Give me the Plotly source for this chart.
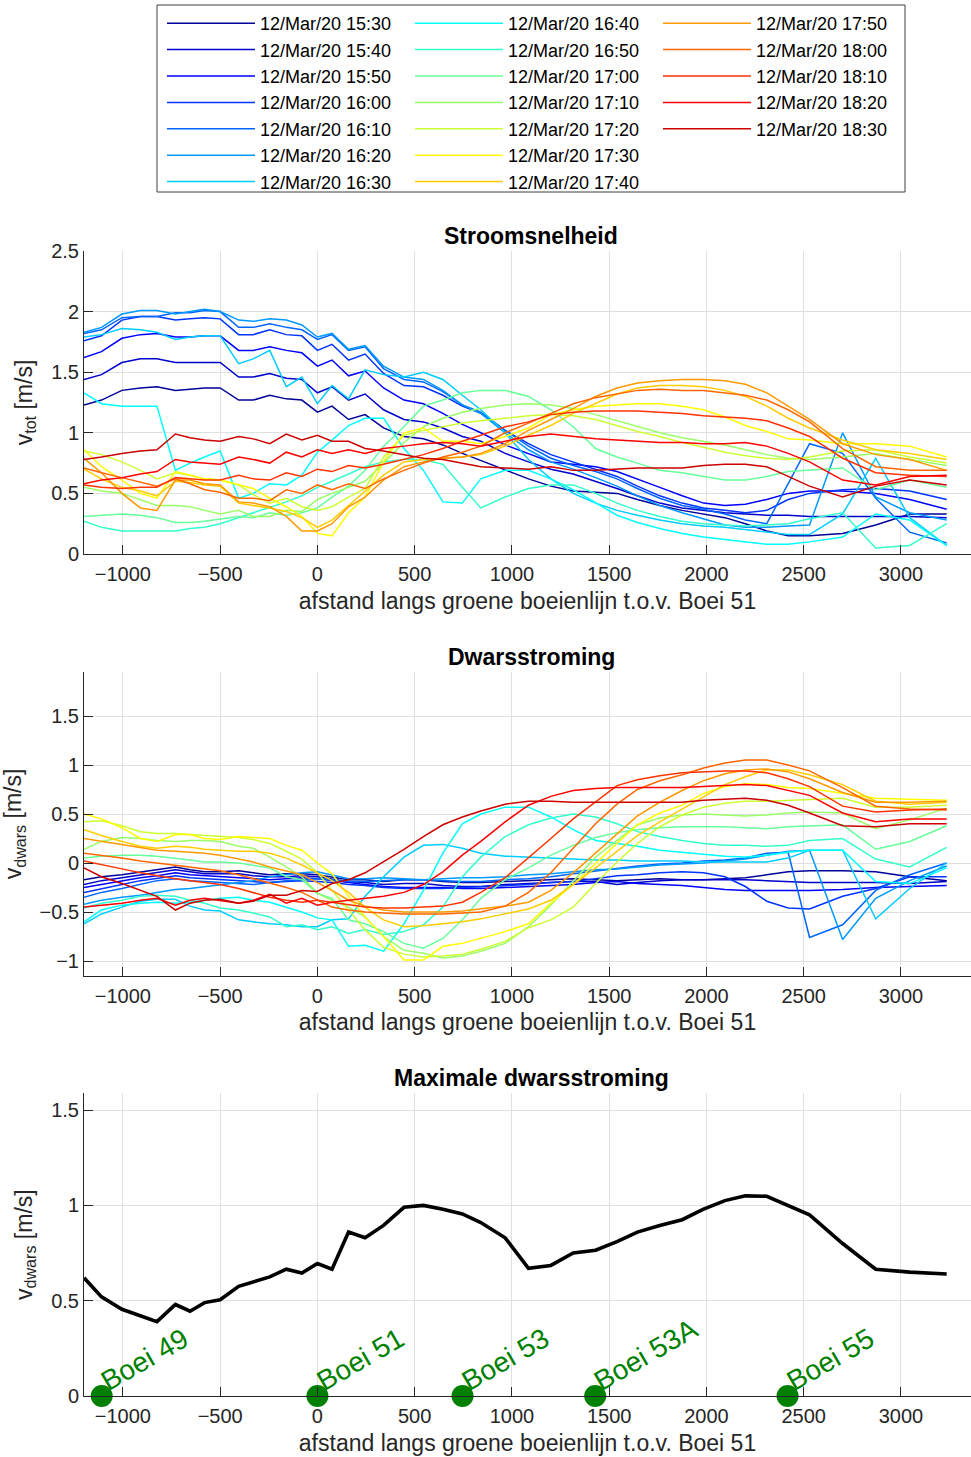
import plotly.graph_objects as go

# ---------------------------------------------------------------------------
# Distance along the green buoy line, relative to Boei 51 [m]
afstand = [-1200, -1110, -1005, -910, -825, -730, -655, -580, -500, -405, -330, -245,
           -160, -80, 0, 75, 160, 245, 340, 445, 545, 645, 745, 840, 965, 1085,
           1200, 1315, 1430, 1540, 1645, 1760, 1875, 1985, 2095, 2200, 2310, 2420,
           2530, 2700, 2870, 3045, 3235]

tijden = ["12/Mar/20 15:30", "12/Mar/20 15:40", "12/Mar/20 15:50", "12/Mar/20 16:00",
          "12/Mar/20 16:10", "12/Mar/20 16:20", "12/Mar/20 16:30", "12/Mar/20 16:40",
          "12/Mar/20 16:50", "12/Mar/20 17:00", "12/Mar/20 17:10", "12/Mar/20 17:20",
          "12/Mar/20 17:30", "12/Mar/20 17:40", "12/Mar/20 17:50", "12/Mar/20 18:00",
          "12/Mar/20 18:10", "12/Mar/20 18:20", "12/Mar/20 18:30"]

# jet colormap, 19 entries
kleuren = ["rgb(0,0,153)", "rgb(0,0,204)", "rgb(0,0,255)", "rgb(0,51,255)", "rgb(0,102,255)",
           "rgb(0,153,255)", "rgb(0,204,255)", "rgb(0,255,255)", "rgb(51,255,204)",
           "rgb(102,255,153)", "rgb(153,255,102)", "rgb(204,255,51)", "rgb(255,255,0)",
           "rgb(255,204,0)", "rgb(255,153,0)", "rgb(255,102,0)", "rgb(255,51,0)",
           "rgb(255,0,0)", "rgb(204,0,0)"]

# --- total current speed v_tot [m/s] ---------------------------------------
vtot_1530 = [1.23, 1.27, 1.35, 1.37, 1.38, 1.35, 1.36, 1.37, 1.37, 1.27, 1.27, 1.31, 1.28, 1.27, 1.17, 1.22, 1.11, 1.15, 1.04, 0.97, 0.95, 0.90, 0.83, 0.77, 0.69, 0.62,
             0.56, 0.52, 0.51, 0.50, 0.45, 0.40, 0.36, 0.33, 0.30, 0.25, 0.19, 0.15, 0.15, 0.17, 0.24, 0.33, 0.33]
vtot_1540 = [1.44, 1.48, 1.58, 1.61, 1.61, 1.58, 1.58, 1.58, 1.58, 1.46, 1.46, 1.49, 1.45, 1.44, 1.33, 1.38, 1.27, 1.32, 1.19, 1.11, 1.09, 1.04, 0.97, 0.93, 0.83, 0.76,
             0.70, 0.66, 0.60, 0.54, 0.48, 0.42, 0.38, 0.36, 0.34, 0.33, 0.32, 0.32, 0.31, 0.31, 0.31, 0.31, 0.30]
vtot_1550 = [1.62, 1.67, 1.78, 1.81, 1.82, 1.79, 1.79, 1.80, 1.80, 1.68, 1.68, 1.71, 1.68, 1.66, 1.55, 1.60, 1.47, 1.51, 1.37, 1.27, 1.24, 1.16, 1.07, 1.00, 0.90, 0.83,
             0.76, 0.74, 0.72, 0.68, 0.62, 0.55, 0.48, 0.42, 0.40, 0.41, 0.45, 0.50, 0.52, 0.52, 0.50, 0.45, 0.37]
vtot_1600 = [1.76, 1.80, 1.93, 1.96, 1.96, 1.93, 1.94, 1.95, 1.94, 1.81, 1.81, 1.85, 1.81, 1.80, 1.68, 1.73, 1.60, 1.65, 1.49, 1.39, 1.38, 1.31, 1.22, 1.16, 1.02, 0.91,
             0.82, 0.76, 0.70, 0.64, 0.56, 0.48, 0.42, 0.38, 0.36, 0.34, 0.36, 0.45, 0.50, 0.53, 0.54, 0.52, 0.45]
vtot_1610 = [1.82, 1.85, 1.95, 1.96, 1.96, 1.99, 1.99, 2.01, 2.00, 1.87, 1.87, 1.90, 1.87, 1.85, 1.77, 1.81, 1.68, 1.71, 1.53, 1.44, 1.42, 1.34, 1.23, 1.17, 1.02, 0.89,
             0.79, 0.73, 0.68, 0.62, 0.54, 0.46, 0.40, 0.37, 0.33, 0.28, 0.25, 0.58, 0.91, 0.83, 0.46, 0.18, 0.09]
vtot_1620 = [1.83, 1.87, 1.98, 2.01, 2.01, 1.98, 2.00, 2.02, 2.00, 1.93, 1.92, 1.94, 1.93, 1.89, 1.79, 1.82, 1.69, 1.72, 1.55, 1.46, 1.44, 1.35, 1.23, 1.16, 1.00, 0.86,
             0.76, 0.70, 0.63, 0.56, 0.48, 0.40, 0.34, 0.29, 0.24, 0.22, 0.22, 0.23, 0.24, 1.00, 0.47, 0.34, 0.28]
vtot_1630 = [1.79, 1.81, 1.86, 1.85, 1.83, 1.77, 1.79, 1.80, 1.80, 1.57, 1.61, 1.68, 1.38, 1.46, 1.24, 1.39, 1.28, 1.52, 1.48, 1.46, 1.50, 1.44, 1.31, 1.19, 1.00, 0.78,
             0.62, 0.50, 0.42, 0.36, 0.32, 0.28, 0.25, 0.23, 0.22, 0.20, 0.18, 0.16, 0.16, 0.33, 0.79, 0.30, 0.07]
vtot_1640 = [1.33, 1.24, 1.22, 1.22, 1.22, 0.69, 0.75, 0.80, 0.85, 0.46, 0.50, 0.58, 0.57, 0.65, 0.84, 0.94, 1.06, 1.12, 1.12, 0.87, 0.69, 0.43, 0.42, 0.62, 0.69, 0.69,
             0.62, 0.53, 0.42, 0.32, 0.26, 0.21, 0.17, 0.14, 0.12, 0.10, 0.08, 0.08, 0.10, 0.14, 0.33, 0.28, 0.07]
vtot_1650 = [0.27, 0.22, 0.19, 0.19, 0.19, 0.19, 0.21, 0.22, 0.25, 0.30, 0.34, 0.38, 0.43, 0.48, 0.55, 0.60, 0.66, 0.72, 0.76, 0.78, 0.78, 0.74, 0.55, 0.38, 0.47, 0.54,
             0.57, 0.57, 0.50, 0.42, 0.36, 0.31, 0.27, 0.25, 0.24, 0.23, 0.24, 0.25, 0.29, 0.34, 0.05, 0.07, 0.25]
vtot_1700 = [0.31, 0.32, 0.33, 0.32, 0.30, 0.26, 0.26, 0.27, 0.29, 0.31, 0.30, 0.34, 0.32, 0.34, 0.38, 0.47, 0.56, 0.69, 0.89, 1.05, 1.22, 1.27, 1.33, 1.35, 1.35, 1.30,
             1.19, 1.05, 0.87, 0.80, 0.75, 0.69, 0.67, 0.64, 0.61, 0.61, 0.64, 0.68, 0.69, 0.71, 0.53, 0.61, 0.55]
vtot_1710 = [0.55, 0.52, 0.50, 0.45, 0.40, 0.40, 0.39, 0.36, 0.33, 0.36, 0.31, 0.31, 0.36, 0.35, 0.45, 0.50, 0.55, 0.60, 0.75, 0.92, 1.05, 1.12, 1.17, 1.20, 1.23, 1.24,
             1.23, 1.20, 1.15, 1.10, 1.05, 1.00, 0.96, 0.93, 0.90, 0.86, 0.82, 0.79, 0.78, 0.80, 0.83, 0.78, 0.73]
vtot_1720 = [0.85, 0.82, 0.76, 0.69, 0.62, 0.67, 0.65, 0.62, 0.61, 0.57, 0.49, 0.42, 0.46, 0.39, 0.36, 0.39, 0.47, 0.54, 0.80, 0.98, 1.02, 1.05, 1.08, 1.10, 1.12, 1.14,
             1.15, 1.14, 1.11, 1.06, 1.01, 0.97, 0.92, 0.88, 0.84, 0.81, 0.79, 0.78, 0.80, 0.85, 0.86, 0.80, 0.75]
vtot_1730 = [0.86, 0.72, 0.61, 0.50, 0.46, 0.68, 0.65, 0.62, 0.61, 0.57, 0.54, 0.46, 0.39, 0.31, 0.17, 0.15, 0.34, 0.47, 0.76, 1.00, 1.04, 0.93, 0.93, 0.91, 0.97, 1.04,
             1.15, 1.19, 1.22, 1.23, 1.24, 1.24, 1.22, 1.19, 1.13, 1.06, 1.01, 0.95, 0.94, 0.91, 0.91, 0.89, 0.80]
vtot_1740 = [0.70, 0.62, 0.55, 0.52, 0.48, 0.60, 0.59, 0.57, 0.56, 0.42, 0.40, 0.38, 0.35, 0.30, 0.22, 0.28, 0.40, 0.52, 0.65, 0.76, 0.78, 0.79, 0.80, 0.82, 0.89, 0.98,
             1.06, 1.16, 1.24, 1.32, 1.37, 1.39, 1.39, 1.38, 1.35, 1.30, 1.22, 1.12, 1.04, 0.94, 0.86, 0.83, 0.78]
vtot_1750 = [0.79, 0.67, 0.50, 0.38, 0.36, 0.61, 0.61, 0.58, 0.57, 0.43, 0.42, 0.39, 0.31, 0.19, 0.19, 0.25, 0.39, 0.47, 0.61, 0.72, 0.76, 0.79, 0.80, 0.83, 0.91, 1.02,
             1.11, 1.20, 1.30, 1.37, 1.41, 1.43, 1.44, 1.44, 1.43, 1.40, 1.33, 1.22, 1.11, 0.91, 0.82, 0.78, 0.69]
vtot_1800 = [0.71, 0.67, 0.63, 0.59, 0.56, 0.62, 0.58, 0.53, 0.51, 0.46, 0.46, 0.44, 0.53, 0.50, 0.57, 0.53, 0.58, 0.54, 0.62, 0.69, 0.75, 0.80, 0.84, 0.89, 1.00, 1.08,
             1.16, 1.24, 1.29, 1.32, 1.35, 1.36, 1.35, 1.35, 1.33, 1.31, 1.27, 1.19, 1.09, 0.87, 0.72, 0.69, 0.69]
vtot_1810 = [0.57, 0.55, 0.54, 0.55, 0.55, 0.63, 0.62, 0.61, 0.61, 0.65, 0.62, 0.61, 0.67, 0.64, 0.70, 0.68, 0.73, 0.71, 0.74, 0.78, 0.82, 0.87, 0.93, 0.98, 1.05, 1.09,
             1.15, 1.17, 1.18, 1.18, 1.18, 1.17, 1.16, 1.14, 1.13, 1.12, 1.10, 1.04, 0.97, 0.79, 0.67, 0.65, 0.64]
vtot_1820 = [0.58, 0.61, 0.63, 0.66, 0.68, 0.78, 0.76, 0.75, 0.74, 0.80, 0.78, 0.75, 0.84, 0.80, 0.86, 0.83, 0.86, 0.83, 0.87, 0.89, 0.91, 0.92, 0.91, 0.89, 0.93, 0.97,
             0.99, 0.97, 0.95, 0.94, 0.93, 0.92, 0.92, 0.91, 0.91, 0.92, 0.89, 0.83, 0.76, 0.61, 0.57, 0.64, 0.65]
vtot_1830 = [0.78, 0.80, 0.83, 0.85, 0.86, 0.99, 0.96, 0.94, 0.93, 0.97, 0.95, 0.91, 0.99, 0.94, 0.98, 0.93, 0.93, 0.87, 0.85, 0.82, 0.79, 0.78, 0.75, 0.72, 0.71, 0.70,
             0.72, 0.69, 0.69, 0.70, 0.71, 0.71, 0.71, 0.73, 0.74, 0.74, 0.72, 0.64, 0.56, 0.47, 0.56, 0.61, 0.57]

# --- cross current v_dwars [m/s] -------------------------------------------
dwars_1530 = [-0.17, -0.14, -0.12, -0.09, -0.07, -0.04, -0.07, -0.09, -0.09, -0.08, -0.10, -0.12, -0.11, -0.11, -0.12, -0.14, -0.17, -0.17, -0.19, -0.17, -0.17, -0.19, -0.20, -0.20, -0.19, -0.18,
              -0.17, -0.16, -0.17, -0.18, -0.17, -0.16, -0.17, -0.17, -0.16, -0.15, -0.12, -0.09, -0.08, -0.08, -0.09, -0.14, -0.18]
dwars_1540 = [-0.22, -0.18, -0.15, -0.12, -0.10, -0.07, -0.09, -0.11, -0.11, -0.11, -0.13, -0.14, -0.14, -0.13, -0.14, -0.16, -0.19, -0.20, -0.22, -0.21, -0.21, -0.23, -0.24, -0.24, -0.22, -0.21,
              -0.20, -0.19, -0.19, -0.22, -0.20, -0.18, -0.17, -0.17, -0.17, -0.17, -0.18, -0.19, -0.20, -0.20, -0.20, -0.21, -0.19]
dwars_1550 = [-0.25, -0.22, -0.18, -0.15, -0.13, -0.10, -0.12, -0.13, -0.14, -0.15, -0.16, -0.17, -0.16, -0.15, -0.16, -0.18, -0.20, -0.22, -0.24, -0.25, -0.25, -0.25, -0.26, -0.26, -0.25, -0.24,
              -0.23, -0.22, -0.20, -0.19, -0.21, -0.22, -0.23, -0.25, -0.27, -0.28, -0.28, -0.28, -0.28, -0.27, -0.25, -0.24, -0.23]
dwars_1600 = [-0.30, -0.26, -0.22, -0.18, -0.16, -0.13, -0.15, -0.16, -0.17, -0.18, -0.19, -0.20, -0.19, -0.18, -0.19, -0.20, -0.22, -0.23, -0.25, -0.26, -0.26, -0.26, -0.25, -0.24, -0.23, -0.22,
              -0.20, -0.19, -0.16, -0.13, -0.12, -0.10, -0.09, -0.10, -0.14, -0.24, -0.39, -0.46, -0.47, -0.34, -0.26, -0.14, -0.14]
dwars_1610 = [-0.35, -0.30, -0.26, -0.22, -0.18, -0.16, -0.18, -0.19, -0.20, -0.21, -0.22, -0.20, -0.18, -0.17, -0.16, -0.17, -0.19, -0.19, -0.18, -0.17, -0.17, -0.18, -0.19, -0.19, -0.17, -0.16,
              -0.14, -0.11, -0.08, -0.05, -0.03, -0.01, 0.00, 0.02, 0.03, 0.05, 0.10, 0.11, -0.76, -0.63, -0.28, -0.12, 0.00]
dwars_1620 = [-0.42, -0.38, -0.35, -0.33, -0.30, -0.27, -0.26, -0.24, -0.22, -0.20, -0.18, -0.14, -0.12, -0.10, -0.09, -0.12, -0.16, -0.16, -0.15, -0.16, -0.17, -0.16, -0.15, -0.15, -0.14, -0.12,
              -0.11, -0.09, -0.07, -0.06, -0.04, -0.02, -0.01, 0.00, 0.02, 0.04, 0.08, 0.12, 0.13, -0.78, -0.36, -0.18, -0.03]
dwars_1630 = [-0.62, -0.52, -0.45, -0.39, -0.37, -0.37, -0.44, -0.48, -0.49, -0.58, -0.60, -0.62, -0.63, -0.65, -0.65, -0.58, -0.57, -0.34, -0.14, 0.06, 0.18, 0.19, 0.15, 0.10, 0.07, 0.06,
              0.05, 0.04, 0.03, 0.03, 0.02, 0.02, 0.02, 0.01, 0.01, 0.01, 0.01, 0.05, 0.13, 0.13, -0.57, -0.26, 0.00]
dwars_1640 = [-0.60, -0.48, -0.43, -0.41, -0.40, -0.41, -0.40, -0.38, -0.36, -0.35, -0.38, -0.40, -0.45, -0.50, -0.56, -0.58, -0.85, -0.84, -0.90, -0.62, -0.28, 0.10, 0.40, 0.50, 0.57, 0.57,
              0.47, 0.34, 0.23, 0.20, 0.17, 0.13, 0.11, 0.09, 0.07, 0.06, 0.08, 0.11, 0.13, 0.13, -0.19, -0.21, -0.05]
dwars_1650 = [-0.46, -0.41, -0.38, -0.34, -0.33, -0.34, -0.38, -0.41, -0.46, -0.48, -0.51, -0.55, -0.65, -0.63, -0.68, -0.65, -0.72, -0.68, -0.73, -0.70, -0.63, -0.45, -0.14, 0.06, 0.27, 0.39,
              0.46, 0.50, 0.47, 0.40, 0.32, 0.27, 0.23, 0.20, 0.18, 0.18, 0.17, 0.18, 0.23, 0.25, 0.04, -0.04, 0.16]
dwars_1700 = [0.05, 0.07, 0.08, 0.08, 0.07, 0.05, 0.03, 0.01, 0.01, 0.00, -0.02, -0.05, -0.14, -0.17, -0.31, -0.36, -0.58, -0.62, -0.70, -0.82, -0.87, -0.77, -0.58, -0.36, -0.17, -0.05,
              0.08, 0.18, 0.26, 0.31, 0.34, 0.36, 0.37, 0.37, 0.37, 0.36, 0.35, 0.37, 0.38, 0.39, 0.14, 0.22, 0.38]
dwars_1710 = [0.14, 0.22, 0.26, 0.25, 0.23, 0.22, 0.23, 0.23, 0.22, 0.17, 0.15, 0.06, -0.04, -0.14, -0.31, -0.38, -0.45, -0.55, -0.75, -0.89, -0.92, -0.97, -0.95, -0.90, -0.82, -0.65,
              -0.43, -0.19, 0.06, 0.23, 0.39, 0.46, 0.49, 0.50, 0.49, 0.48, 0.49, 0.51, 0.52, 0.51, 0.35, 0.44, 0.56]
dwars_1720 = [0.42, 0.43, 0.38, 0.32, 0.30, 0.30, 0.29, 0.28, 0.27, 0.26, 0.24, 0.20, 0.12, 0.04, -0.10, -0.28, -0.48, -0.68, -0.86, -0.93, -0.96, -0.95, -0.93, -0.88, -0.80, -0.66,
              -0.58, -0.45, -0.21, 0.01, 0.20, 0.37, 0.49, 0.57, 0.61, 0.63, 0.63, 0.64, 0.65, 0.66, 0.57, 0.57, 0.59]
dwars_1730 = [0.50, 0.45, 0.36, 0.25, 0.22, 0.29, 0.29, 0.25, 0.24, 0.27, 0.26, 0.25, 0.18, 0.13, 0.00, -0.11, -0.34, -0.55, -0.75, -0.99, -0.99, -0.85, -0.82, -0.77, -0.70, -0.62,
              -0.41, -0.22, 0.00, 0.20, 0.39, 0.51, 0.59, 0.71, 0.78, 0.81, 0.80, 0.77, 0.76, 0.71, 0.66, 0.65, 0.64]
dwars_1740 = [0.34, 0.28, 0.22, 0.17, 0.15, 0.17, 0.16, 0.14, 0.13, 0.12, 0.12, 0.10, 0.05, -0.02, -0.10, -0.18, -0.30, -0.45, -0.58, -0.65, -0.64, -0.62, -0.60, -0.57, -0.52, -0.47,
              -0.38, -0.22, -0.05, 0.12, 0.28, 0.42, 0.55, 0.68, 0.80, 0.88, 0.95, 0.95, 0.90, 0.80, 0.63, 0.60, 0.62]
dwars_1750 = [0.25, 0.22, 0.19, 0.16, 0.13, 0.12, 0.11, 0.10, 0.08, 0.04, 0.01, -0.04, -0.08, -0.12, -0.20, -0.28, -0.38, -0.44, -0.48, -0.50, -0.50, -0.50, -0.49, -0.47, -0.44, -0.40,
              -0.28, -0.10, 0.10, 0.30, 0.48, 0.62, 0.74, 0.84, 0.91, 0.95, 0.96, 0.93, 0.86, 0.72, 0.62, 0.62, 0.63]
dwars_1800 = [0.10, 0.08, 0.05, 0.02, 0.00, -0.02, -0.04, -0.06, -0.08, -0.12, -0.16, -0.20, -0.25, -0.30, -0.38, -0.45, -0.48, -0.50, -0.51, -0.52, -0.52, -0.52, -0.51, -0.50, -0.44, -0.30,
              -0.10, 0.15, 0.40, 0.60, 0.75, 0.84, 0.90, 0.97, 1.02, 1.05, 1.05, 1.00, 0.94, 0.77, 0.58, 0.55, 0.54]
dwars_1810 = [0.02, -0.02, -0.06, -0.10, -0.13, -0.16, -0.18, -0.20, -0.22, -0.26, -0.30, -0.35, -0.38, -0.40, -0.38, -0.40, -0.43, -0.45, -0.46, -0.46, -0.45, -0.44, -0.40, -0.30, -0.15, 0.05,
              0.25, 0.45, 0.62, 0.79, 0.85, 0.89, 0.92, 0.93, 0.94, 0.94, 0.92, 0.86, 0.78, 0.58, 0.52, 0.54, 0.55]
dwars_1820 = [-0.45, -0.43, -0.41, -0.38, -0.36, -0.43, -0.38, -0.36, -0.38, -0.41, -0.38, -0.32, -0.41, -0.36, -0.43, -0.40, -0.38, -0.36, -0.34, -0.30, -0.22, -0.09, 0.08, 0.22, 0.42, 0.59,
              0.68, 0.74, 0.76, 0.77, 0.77, 0.77, 0.77, 0.78, 0.79, 0.80, 0.79, 0.74, 0.69, 0.51, 0.42, 0.45, 0.45]
dwars_1830 = [-0.05, -0.14, -0.21, -0.28, -0.34, -0.48, -0.41, -0.38, -0.37, -0.41, -0.39, -0.33, -0.33, -0.28, -0.29, -0.21, -0.17, -0.10, 0.01, 0.14, 0.27, 0.39, 0.47, 0.53, 0.60, 0.63,
              0.63, 0.62, 0.62, 0.62, 0.62, 0.62, 0.62, 0.64, 0.65, 0.66, 0.64, 0.59, 0.51, 0.38, 0.37, 0.40, 0.40]

# --- maximum cross current over all times [m/s] -----------------------------
max_dwars = [0.62, 0.52, 0.455, 0.42, 0.39, 0.48, 0.445, 0.49, 0.505, 0.575, 0.60, 0.625,
             0.665, 0.645, 0.695, 0.665, 0.86, 0.83, 0.895, 0.99, 1.0, 0.98, 0.955, 0.91,
             0.83, 0.67, 0.685, 0.75, 0.765, 0.81, 0.86, 0.895, 0.925, 0.98, 1.025, 1.05,
             1.048, 1.0, 0.95, 0.80, 0.665, 0.65, 0.64]

# --- buoys along the line ----------------------------------------------------
boei_namen = ["Boei 49", "Boei 51", "Boei 53", "Boei 53A", "Boei 55"]
boei_afstand = [-1109, 0, 746, 1428, 2417]

x_ticks = [-1000, -500, 0, 500, 1000, 1500, 2000, 2500, 3000]

vtot_series = [vtot_1530, vtot_1540, vtot_1550, vtot_1600, vtot_1610, vtot_1620, vtot_1630,
               vtot_1640, vtot_1650, vtot_1700, vtot_1710, vtot_1720, vtot_1730, vtot_1740,
               vtot_1750, vtot_1800, vtot_1810, vtot_1820, vtot_1830]
dwars_series = [dwars_1530, dwars_1540, dwars_1550, dwars_1600, dwars_1610, dwars_1620,
                dwars_1630, dwars_1640, dwars_1650, dwars_1700, dwars_1710, dwars_1720,
                dwars_1730, dwars_1740, dwars_1750, dwars_1800, dwars_1810, dwars_1820,
                dwars_1830]

# ---------------------------------------------------------------------------
FONT = "Liberation Sans, Arial, Helvetica, sans-serif"
AX = "#262626"
GRID = "#e0e0e0"
W, H = 971, 1457
ML = 84
PW = W - ML


def py(px):
    """figure pixel row -> paper y"""
    return 1 - px / H


def pxx(px):
    """figure pixel column -> paper x"""
    return (px - ML) / PW


fig = go.Figure()

# legend: three columns of seven entries, each column its own legend
legend_ids = ["legend", "legend2", "legend3"]
for i, (naam, kleur, v) in enumerate(zip(tijden, kleuren, vtot_series)):
    fig.add_trace(go.Scatter(x=afstand, y=v, mode="lines", name=naam,
                             line=dict(color=kleur, width=1.5),
                             legend=legend_ids[i // 7], xaxis="x", yaxis="y"))

for naam, kleur, v in zip(tijden, kleuren, dwars_series):
    fig.add_trace(go.Scatter(x=afstand, y=v, mode="lines", name=naam,
                             line=dict(color=kleur, width=1.5), showlegend=False,
                             xaxis="x2", yaxis="y2"))

fig.add_trace(go.Scatter(x=afstand, y=max_dwars, mode="lines", showlegend=False,
                         line=dict(color="black", width=3.6), xaxis="x3", yaxis="y3"))
fig.add_trace(go.Scatter(x=boei_afstand, y=[0] * len(boei_afstand), mode="markers",
                         showlegend=False, cliponaxis=False,
                         marker=dict(color="#008000", size=22, line=dict(width=0)),
                         xaxis="x3", yaxis="y3"))

# panel geometry in figure pixels (top, bottom)
panels = [(251, 554), (672.3, 975.7), (1093.3, 1396)]
y_ranges = [[0, 2.5], [-1.15, 1.946], [0, 1.588]]
y_ticks = [[0, 0.5, 1, 1.5, 2, 2.5], [-1, -0.5, 0, 0.5, 1, 1.5], [0, 0.5, 1, 1.5]]
titles = ["Stroomsnelheid", "Dwarsstroming", "Maximale dwarsstroming"]
ylabels = ["v<sub>tot</sub> [m/s]", "v<sub>dwars</sub> [m/s]", "v<sub>dwars</sub> [m/s]"]
xlabel = "afstand langs groene boeienlijn t.o.v. Boei 51"

axis_common = dict(showline=True, linecolor=AX, linewidth=1, mirror=False,
                   ticks="inside", ticklen=9, tickwidth=1, tickcolor=AX,
                   showgrid=True, gridcolor=GRID, gridwidth=1, zeroline=False,
                   tickfont=dict(family=FONT, size=20, color=AX), automargin=False)
title_font = dict(family=FONT, size=23, color=AX)

layout_axes = {}
for k, ((top, bot), yr, yt, yl) in enumerate(zip(panels, y_ranges, y_ticks, ylabels), start=1):
    xs = "" if k == 1 else str(k)
    layout_axes["xaxis" + xs] = dict(axis_common, domain=[0, 1], range=[-1200, 3360],
                                     tickvals=x_ticks, anchor="y" + xs, ticklabelstandoff=2,
                                     title=dict(text=xlabel, font=title_font, standoff=8))
    layout_axes["yaxis" + xs] = dict(axis_common, domain=[py(bot), py(top)], range=yr,
                                     tickvals=yt, anchor="x" + xs,
                                     title=dict(text=yl, font=title_font, standoff=12))

annotations = []
for (top, bot), t in zip(panels, titles):
    annotations.append(dict(text="<b>%s</b>" % t, xref="paper", yref="paper",
                            x=pxx(531), y=py(top - 15), xanchor="center", yanchor="middle",
                            showarrow=False, font=dict(family=FONT, size=23, color="black")))

# buoy names, rotated 30 degrees, baseline starting just right of each marker
BOEI_FS = 28
for naam, pos in zip(boei_namen, boei_afstand):
    half = BOEI_FS * (3.391 if len(naam) == 7 else 4.058) / 2
    cap = 0.36 * BOEI_FS
    dx = 7 + 0.866 * half - 0.5 * cap
    dy = -4 - 0.5 * half - 0.866 * cap
    annotations.append(dict(text=naam, xref="x3", yref="y3", x=pos, y=0,
                            xanchor="center", yanchor="middle", textangle=-30,
                            xshift=dx, yshift=-dy, showarrow=False,
                            font=dict(family=FONT, size=BOEI_FS, color="#008000")))

legend_style = dict(orientation="v", xanchor="left", y=py(5), yanchor="top",
                    itemwidth=88, font=dict(family=FONT, size=18, color="black"),
                    bgcolor="rgba(0,0,0,0)", borderwidth=0, traceorder="normal")

fig.update_layout(
    width=W, height=H, template="none",
    margin=dict(l=ML, r=0, t=0, b=0, pad=0),
    paper_bgcolor="white", plot_bgcolor="white",
    font=dict(family=FONT, color=AX),
    showlegend=True,
    legend=dict(legend_style, x=pxx(162)),
    legend2=dict(legend_style, x=pxx(410)),
    legend3=dict(legend_style, x=pxx(658)),
    shapes=[dict(type="rect", xref="paper", yref="paper",
                 x0=pxx(157), x1=pxx(905), y0=py(192), y1=py(5),
                 line=dict(color="#404040", width=1), fillcolor="white", layer="below")],
    annotations=annotations,
    **layout_axes,
)

fig.write_html("out.html")
